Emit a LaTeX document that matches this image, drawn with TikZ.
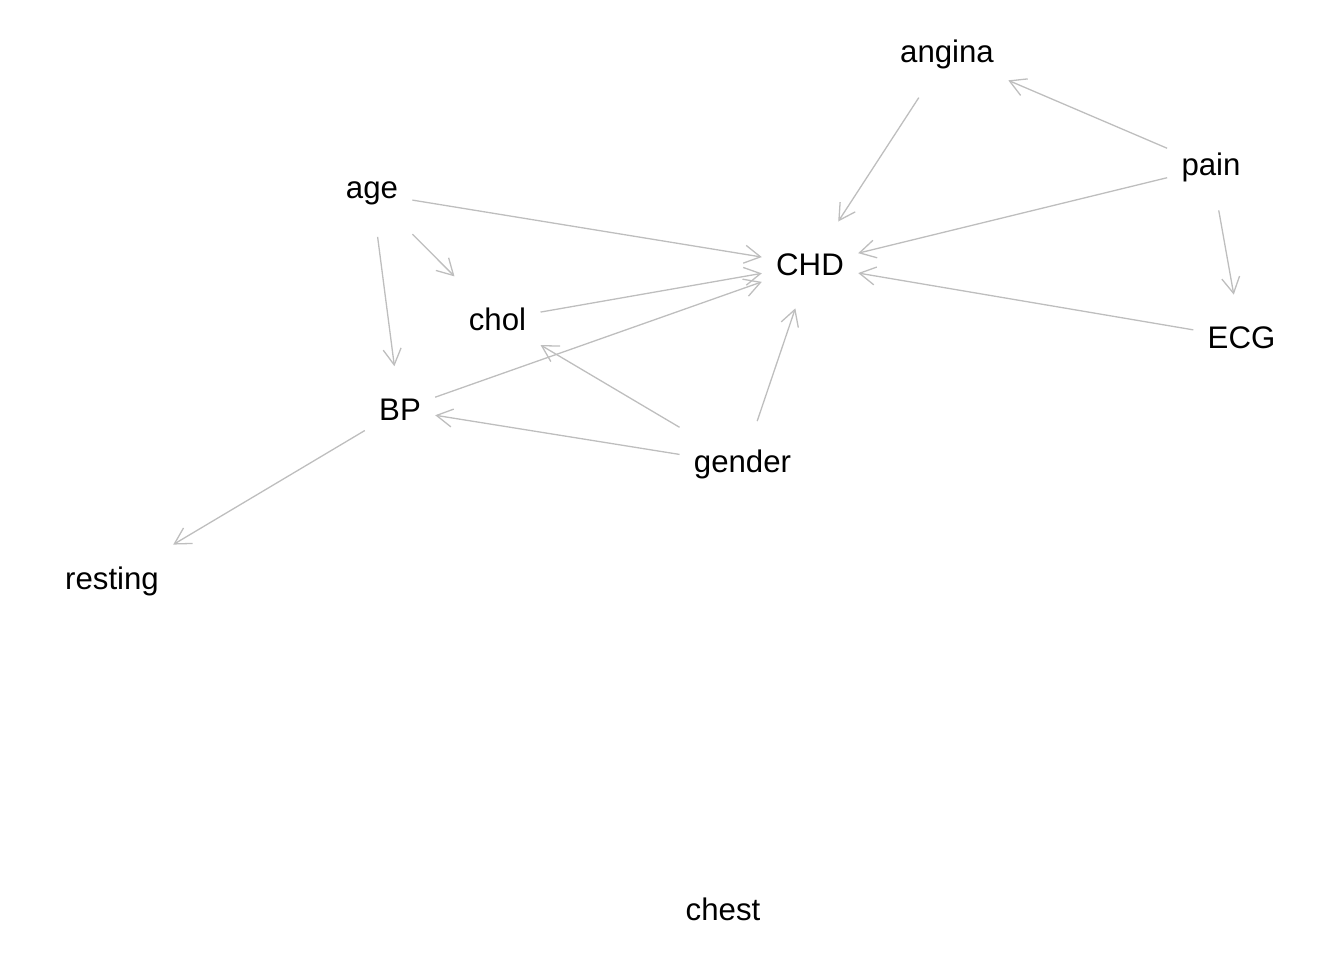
\documentclass[tikz,border=0pt]{standalone}
\usepackage{fontspec}
\setmainfont{Liberation Sans}
\usetikzlibrary{arrows.meta}
\definecolor{edgegray}{RGB}{190,190,190}
\begin{document}
\begin{tikzpicture}[x=0.5pt,y=-0.5pt,
  vtx/.style={rectangle, inner xsep=7pt, inner ysep=0pt, minimum height=43pt,
    font=\fontsize{15.6pt}{18pt}\selectfont, text=black},
  edg/.style={draw=edgegray, line width=0.65pt,
    -{Straight Barb[length=8pt,width=9pt]}}]
\useasboundingbox (0,0) rectangle (1344,960);
\node[vtx] (angina)  at (947,54.2)   {angina};
\node[vtx] (pain)    at (1211,167)   {pain};
\node[vtx] (age)     at (372,193.5)  {age};
\node[vtx] (CHD)     at (810,264.9)  {CHD};
\node[vtx] (chol)    at (497.5,319.6){chol};
\node[vtx] (ECG)     at (1241.5,338) {ECG};
\node[vtx] (BP)      at (400,409.6)  {BP};
\node[vtx] (gender)  at (742.5,464.5){gender};
\node[vtx] (resting) at (112,581)    {resting};
\node[vtx] (chest)   at (723,909)    {chest};
\draw[edg] (pain) -- (angina);
\draw[edg] (angina) -- (CHD);
\draw[edg] (pain) -- (CHD);
\draw[edg] (pain) -- (ECG);
\draw[edg] (ECG) -- (CHD);
\draw[edg] (age) -- (CHD);
\draw[edg] (age) -- (chol);
\draw[edg] (age) -- (BP);
\draw[edg] (chol) -- (CHD);
\draw[edg] (BP) -- (CHD);
\draw[edg] (gender) -- (chol);
\draw[edg] (gender) -- (BP);
\draw[edg] (gender) -- (CHD);
\draw[edg] (BP) -- (resting);
\end{tikzpicture}
\end{document}
